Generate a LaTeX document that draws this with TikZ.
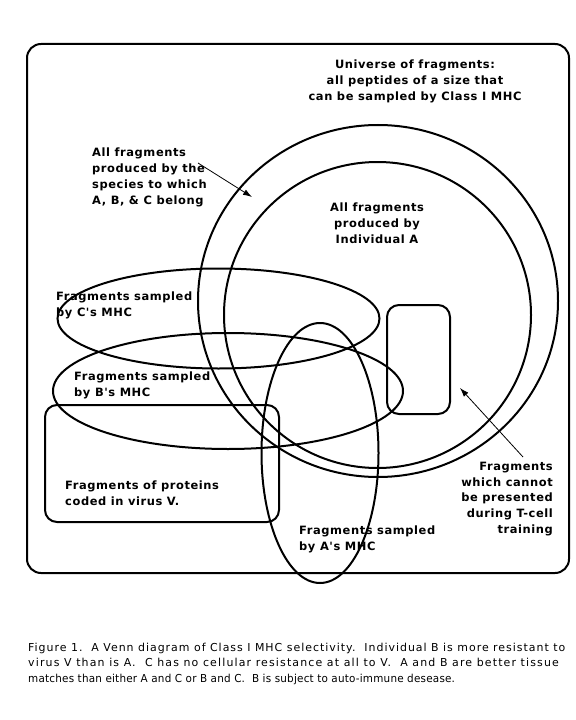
\documentclass[tikz,border=0pt]{standalone}
\usepackage{fontspec}
\setmainfont{DejaVu Sans}
\newfontfamily\labelfont[LetterSpace=5]{DejaVu Sans}
\newfontfamily\capfontA[LetterSpace=9]{DejaVu Sans}
\newfontfamily\capfontB[LetterSpace=10.5]{DejaVu Sans}
\newfontfamily\capfontC[LetterSpace=2]{DejaVu Sans}
\usetikzlibrary{arrows.meta}
\begin{document}
\begin{tikzpicture}[x=1bp,y=-1bp,
  shapeline/.style={line width=2bp},
  lbl/.style={font=\labelfont\bfseries\fontsize{11.5}{16}\selectfont, inner sep=0pt},
  captext/.style={font=\fontsize{11}{16}\selectfont, inner sep=0pt, align=left, anchor=north west},
  pointer/.style={line width=0.8bp, -{Latex[length=9bp,width=6bp]}}
]
\useasboundingbox (0,0) rectangle (576,720);
% frame and sets
\draw[shapeline, rounded corners=14bp] (27,44) rectangle (569,573);
\draw[shapeline] (378,301) ellipse [x radius=180, y radius=176];
\draw[shapeline] (377.5,315) ellipse [x radius=153.5, y radius=153];
\draw[shapeline] (218.5,318.5) ellipse [x radius=161, y radius=50];
\draw[shapeline] (228,391) ellipse [x radius=175, y radius=58];
\draw[shapeline] (320,453) ellipse [x radius=58.5, y radius=130];
\draw[shapeline, rounded corners=12bp] (45,405) rectangle (279,522);
\draw[shapeline, rounded corners=12bp] (387,305) rectangle (450,414);
% labels
\node[lbl, align=center] (universe) at (415,81) {Universe of fragments:\\all peptides of a size that\\can be sampled by Class I MHC};
\node[lbl, align=left, anchor=west] (species) at (92,177) {All fragments\\produced by the\\species to which\\A, B, \& C belong};
\node[lbl, align=center] (indiv) at (377,223) {All fragments\\produced by\\Individual A};
\node[lbl, align=left, anchor=west] (csamp) at (56,305) {Fragments sampled\\by C's MHC};
\node[lbl, align=left, anchor=west] (bsamp) at (74,385.5) {Fragments sampled\\by B's MHC};
\node[lbl, align=left, anchor=west] (virus) at (65,493.5) {Fragments of proteins\\coded in virus V.};
\node[lbl, align=left, anchor=west] (asamp) at (299,539) {Fragments sampled\\by A's MHC};
\node[lbl, align=right, anchor=east] (cannot) at (553,499) {Fragments\\which cannot\\be presented\\during T-cell\\training};
% pointers
\coordinate (p1s) at (198,163);
\coordinate (p1e) at (252,197);
\coordinate (p2s) at (523,457);
\coordinate (p2e) at (460,388);
\draw[pointer] (p1s) -- (p1e);
\draw[pointer] (p2s) -- (p2e);
% caption
\node[captext] (caption) at (28,642.5) {{\capfontA Figure 1.\ \ A Venn diagram of Class I MHC selectivity.\ \ Individual B is more resistant to}\\{\capfontB virus V than is A.\ \ C has no cellular resistance at all to V.\ \ A and B are better tissue}\\\scalebox{0.95}[1]{\capfontC matches than either A and C or B and C.\ \ B is subject to auto-immune desease.}};
\end{tikzpicture}
\end{document}
